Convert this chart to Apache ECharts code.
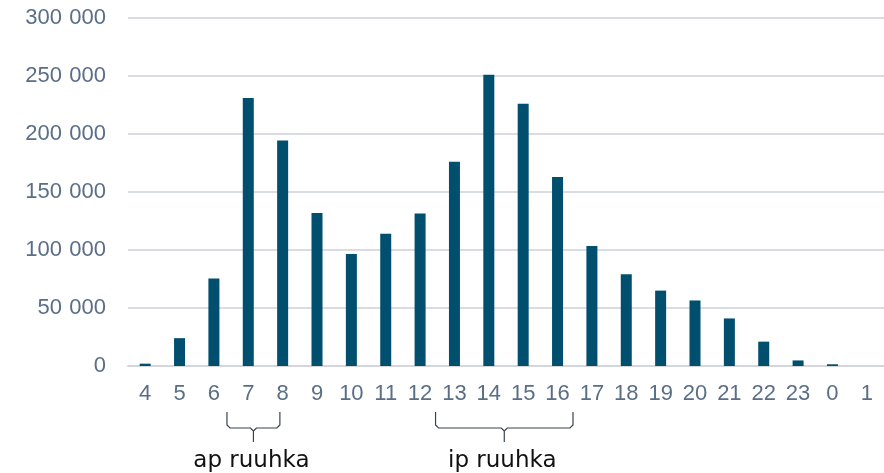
<!DOCTYPE html>
<html>
<head>
<meta charset="utf-8">
<script src="https://cdn.jsdelivr.net/npm/echarts@6/dist/echarts.min.js"></script>
<style>
  html, body { margin: 0; padding: 0; background: #fff; }
  #chart { width: 884px; height: 473px; }
</style>
</head>
<body>
<div id="chart"></div>
<script>
const hours = ["4", "5", "6", "7", "8", "9", "10", "11", "12", "13", "14", "15", "16", "17", "18", "19", "20", "21", "22", "23", "0", "1"];
const trips = [2000, 24000, 75500, 231000, 194500, 132000, 96500, 114000, 131500, 176000, 251000, 226000, 163000, 103500, 79000, 65000, 56500, 41000, 21000, 4800, 1500, 0];
const yTicks = [0, 50000, 100000, 150000, 200000, 250000, 300000];
const rushLabels = ["ap ruuhka", "ip ruuhka"];
const rushFrom = ["7", "13"];
const rushTo = ["8", "16"];

const labelColor = "#5a6e86";
// thousands grouped with a space, like the original
const fmt = (v) => String(v).replace(/\B(?=(\d{3})+(?!\d))/g, "\u2004");

const chart = echarts.init(document.getElementById("chart"));
chart.setOption({
  animation: false,
  grid: { left: 128, right: 0, top: 18, bottom: 107 },
  xAxis: {
    type: "category",
    data: hours,
    axisTick: { show: false },
    axisLine: { lineStyle: { color: "#d3d7dd", width: 2 } },
    axisLabel: { color: labelColor, fontSize: 22, fontFamily: "Liberation Sans", margin: 17 },
  },
  yAxis: {
    type: "value",
    min: yTicks[0],
    max: yTicks[yTicks.length - 1],
    interval: yTicks[1] - yTicks[0],
    axisLine: { show: false },
    axisTick: { show: false },
    splitLine: { lineStyle: { color: "#d9dce2", width: 2 } },
    axisLabel: { color: labelColor, fontSize: 22, fontFamily: "Liberation Sans", margin: 22, formatter: fmt },
  },
  series: [
    {
      type: "bar",
      data: trips,
      barWidth: 11,
      itemStyle: { color: "#004f6f" },
    },
  ],
});

// curly braces under the rush hour categories
const px = (cat) => chart.convertToPixel({ xAxisIndex: 0 }, cat);
const band = px("5") - px("4");
const padLeft = [0.62, 0.55];
const padRight = [-0.08, 0.45];
const graphics = [];
rushLabels.forEach((label, i) => {
  const x1 = px(rushFrom[i]) - band * padLeft[i];
  const x2 = px(rushTo[i]) + band * padRight[i];
  const xm = (x1 + x2) / 2;
  const yTop = 412, yMid = 428, yBot = 442, c = 3;
  const line = { fill: null, stroke: "#3a4450", lineWidth: 1.2 };
  graphics.push({
    type: "polyline",
    shape: { points: [[x1, yTop], [x1, yMid - c], [x1 + c, yMid], [xm - c, yMid], [xm, yMid + c], [xm, yBot]] },
    style: line,
  });
  graphics.push({
    type: "polyline",
    shape: { points: [[x2, yTop], [x2, yMid - c], [x2 - c, yMid], [xm + c, yMid], [xm, yMid + c]] },
    style: line,
  });
  graphics.push({
    type: "text",
    x: xm - 2,
    y: 461,
    style: {
      text: label,
      fill: "#111",
      font: "23px 'DejaVu Sans'",
      align: "center",
      verticalAlign: "middle",
    },
  });
});
chart.setOption({ graphic: graphics });
</script>
</body>
</html>
